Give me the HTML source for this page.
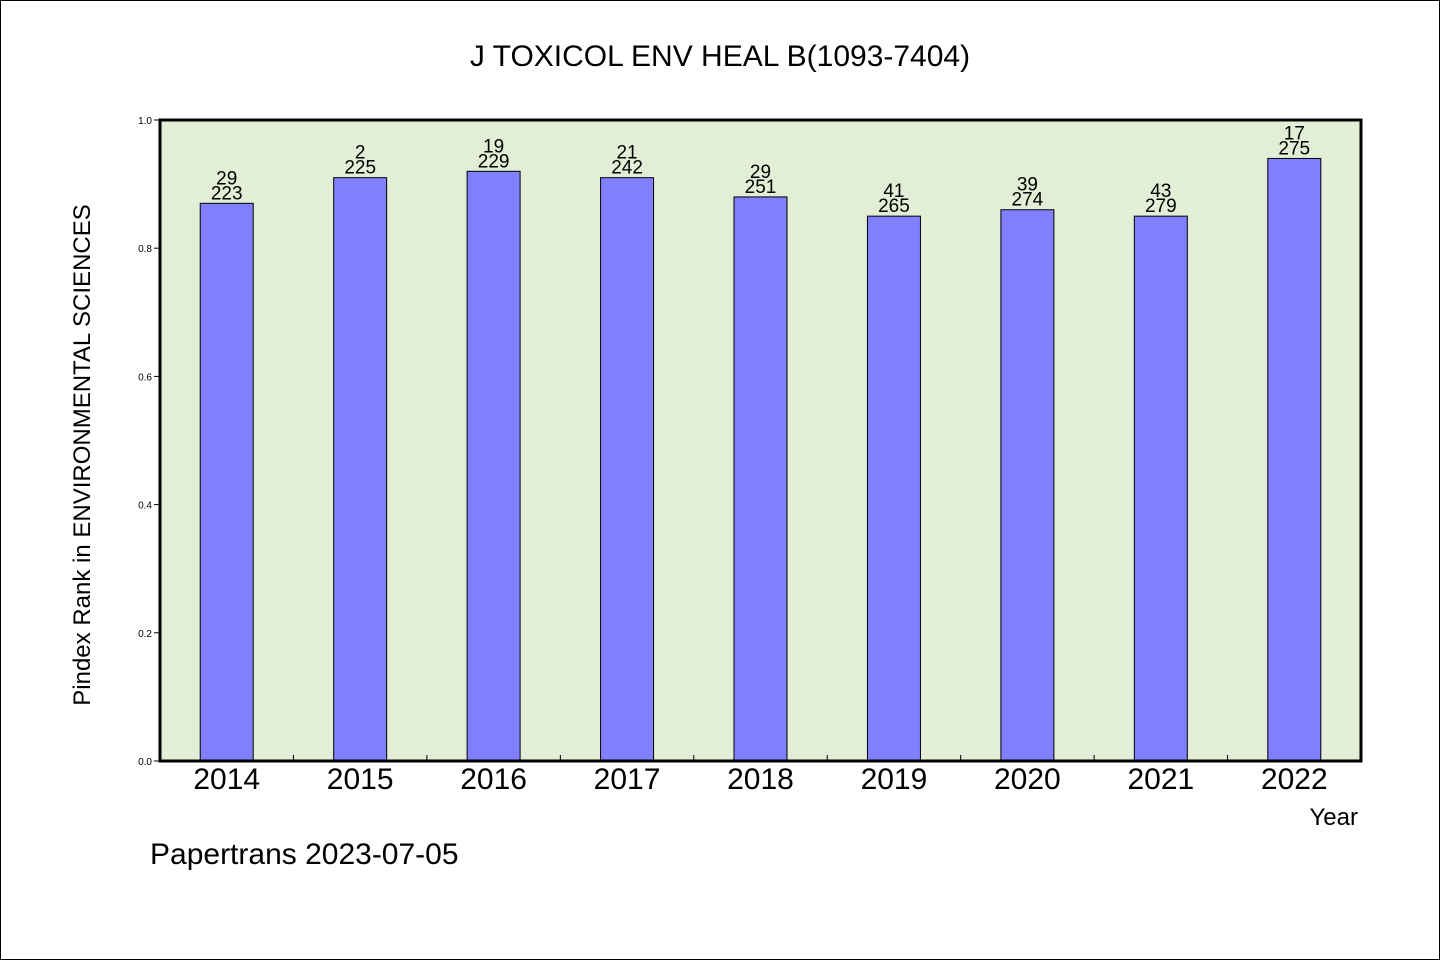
<!DOCTYPE html>
<html><head><meta charset="utf-8"><style>
html,body{margin:0;padding:0;background:#fff}
svg{display:block}
text{font-family:"WenQuanYi Zen Hei","Liberation Sans",sans-serif;fill:#000}
</style></head><body>
<svg id="chart" width="1440" height="960">
<rect x="0.5" y="0.5" width="1439" height="959" fill="#fff" stroke="#000"/>
<text x="720" y="66" font-size="30" text-anchor="middle">J TOXICOL ENV HEAL B(1093-7404)</text>
<rect x="160" y="120" width="1201" height="641" fill="#e2efd6"/>
<g id="bars"></g>
<g id="axes"></g>
<rect x="160" y="120" width="1201" height="641" fill="none" stroke="#000" stroke-width="3"/>
<text transform="translate(90,455) rotate(-90)" font-size="24" text-anchor="middle">Pindex Rank in ENVIRONMENTAL SCIENCES</text>
<text x="1358" y="825" font-size="24" text-anchor="end">Year</text>
<text x="150" y="864" font-size="30">Papertrans 2023-07-05</text>
</svg>
<script>
const categories=["2014","2015","2016","2017","2018","2019","2020","2021","2022"];
const values=[0.87,0.91,0.92,0.91,0.88,0.85,0.86,0.85,0.94];
const ranks=["29","2","19","21","29","41","39","43","17"];
const totals=["223","225","229","242","251","265","274","279","275"];
const yTicks=[0,0.2,0.4,0.6,0.8,1.0];
const tickLabels=["0.0","0.2","0.4","0.6","0.8","1.0"];
const NS="http://www.w3.org/2000/svg";
const X0=160,X1=1361,Y0=761,Y1=120;
const band=(X1-X0)/categories.length;
const xC=i=>X0+band*(i+0.5);
const yS=v=>Y0-(Y0-Y1)*v;
function mk(tag,attrs,parent){const e=document.createElementNS(NS,tag);for(const k in attrs)e.setAttribute(k,attrs[k]);parent.appendChild(e);return e;}
const bars=document.getElementById('bars'),axes=document.getElementById('axes');
categories.forEach((c,i)=>{
  const y=yS(values[i]);
  const r=mk('rect',{x:xC(i)-26.5,y:y,width:53,height:Y0-y,fill:'#8080ff',stroke:'#000','stroke-width':1},bars);
  
  
  const t1=mk('text',{x:xC(i),y:y-19,'font-size':19,'text-anchor':'middle'},bars);t1.textContent=ranks[i];
  
  
  const t2=mk('text',{x:xC(i),y:y-4,'font-size':19,'text-anchor':'middle'},bars);t2.textContent=totals[i];
  
  
  const xl=mk('text',{x:xC(i),y:789,'font-size':30,'text-anchor':'middle'},axes);xl.textContent=c;
  
  
  if(i>0){const tk=mk('line',{x1:X0+band*i,x2:X0+band*i,y1:Y0,y2:Y0-6,stroke:'#000'},axes);
  
  }
});
yTicks.forEach((v,i)=>{
  const y=yS(v);
  const tk=mk('line',{x1:X0-6,x2:X0,y1:y,y2:y,stroke:'#000'},axes);
  
  
  const t=mk('text',{x:X0-8,y:y+4,'font-size':10,'text-anchor':'end'},axes);t.textContent=tickLabels[i];
  
  
});
</script>
</body></html>
